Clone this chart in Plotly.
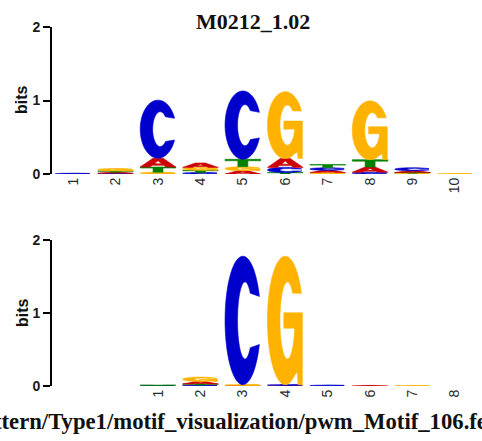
import numpy as np
import plotly.graph_objects as go

# ---------------- data (information content in bits) ----------------
title_text = "M0212_1.02"
caption_text = "pattern/Type1/motif_visualization/pwm_Motif_106.feature"

top_positions = [1, 2, 3, 4, 5, 6, 7, 8, 9, 10]
top_labels = ["1", "2", "3", "4", "5", "6", "7", "8", "9", "10"]
top_A = [0.0, 0.015, 0.12, 0.06, 0.045, 0.12, 0.03, 0.07, 0.025, 0.0]
top_C = [0.01, 0.01, 0.79, 0.02, 0.93, 0.07, 0.035, 0.025, 0.04, 0.0]
top_G = [0.0, 0.035, 0.025, 0.04, 0.055, 0.91, 0.02, 0.80, 0.01, 0.005]
top_T = [0.0, 0.015, 0.07, 0.03, 0.10, 0.02, 0.045, 0.10, 0.01, 0.0]

bot_positions = [1, 2, 3, 4, 5, 6, 7, 8]
bot_labels = ["1", "2", "3", "4", "5", "6", "7", "8"]
bot_A = [0.0, 0.035, 0.008, 0.008, 0.0, 0.008, 0.0, 0.0]
bot_C = [0.006, 0.012, 1.76, 0.01, 0.012, 0.0, 0.0, 0.0]
bot_G = [0.0, 0.06, 0.01, 1.76, 0.0, 0.0, 0.004, 0.0]
bot_T = [0.006, 0.015, 0.0, 0.0, 0.0, 0.0, 0.0, 0.0]

y_ticks = [0, 1, 2]

# ---------------- style ----------------
colors = {"A": "#CC0000", "C": "#0000CC", "G": "#FFB300", "T": "#008000"}
W = 0.84  # letter width in position units


def arc(cx, cy, rx, ry, t0, t1, n=48):
    t = np.radians(np.linspace(t0, t1, n))
    return list(zip(cx + rx * np.cos(t), cy + ry * np.sin(t)))


def glyph(letter):
    """Unit-square glyph outline(s) for a letter (list of subpaths)."""
    if letter == "C":
        outer = arc(0.5, 0.5, 0.5, 0.5, 22, 338, 64)
        inner = arc(0.56, 0.5, 0.21, 0.30, 315, 45, 48)
        return [outer + inner]
    if letter == "G":
        outer = arc(0.5, 0.5, 0.5, 0.5, 25, 300, 60)
        mid = [(0.84, 0.10), (0.86, 0.0), (0.98, 0.0), (0.98, 0.56),
               (0.46, 0.56), (0.46, 0.44)]
        inner = arc(0.56, 0.5, 0.21, 0.30, 348.5, 45, 48)
        return [outer + mid + inner]
    if letter == "A":
        outer = [(0.0, 0.0), (0.36, 1.0), (0.64, 1.0), (1.0, 0.0), (0.73, 0.0),
                 (0.66, 0.2), (0.34, 0.2), (0.27, 0.0)]
        hole = [(0.40, 0.36), (0.5, 0.72), (0.60, 0.36)]
        return [outer, hole]
    if letter == "T":
        return [[(0.0, 1.0), (1.0, 1.0), (1.0, 0.8), (0.64, 0.8), (0.64, 0.0),
                 (0.36, 0.0), (0.36, 0.8), (0.0, 0.8)]]


GLYPHS = {b: glyph(b) for b in "ACGT"}


def letter_path(letter, pos, base, h):
    parts = []
    for sub in GLYPHS[letter]:
        pts = [(pos + (u - 0.5) * W, base + v * h) for u, v in sub]
        s = "M " + " L ".join(f"{x:.4f},{y:.5f}" for x, y in pts) + " Z"
        parts.append(s)
    return " ".join(parts)


def stack_shapes(positions, series, xref, yref):
    shapes = []
    for i, pos in enumerate(positions):
        items = [(series[b][i], b) for b in "ACGT" if series[b][i] > 0]
        items.sort()
        base = 0.0
        for h, b in items:
            shapes.append(dict(
                type="path", xref=xref, yref=yref,
                path=letter_path(b, pos, base, h),
                fillcolor=colors[b], fillrule="evenodd",
                line=dict(color=colors[b], width=0.6), layer="above"))
            base += h
    return shapes


top_series = {"A": top_A, "C": top_C, "G": top_G, "T": top_T}
bot_series = {"A": bot_A, "C": bot_C, "G": bot_G, "T": bot_T}

shapes = stack_shapes(top_positions, top_series, "x", "y") + \
    stack_shapes(bot_positions, bot_series, "x2", "y2")

fig = go.Figure()
fig.add_trace(go.Scatter(x=[], y=[], xaxis="x", yaxis="y", showlegend=False))
fig.add_trace(go.Scatter(x=[], y=[], xaxis="x2", yaxis="y2", showlegend=False))

FW, FH = 482, 441
xdom = [52 / FW, 474 / FW]

xaxis_common = dict(showline=False, showgrid=False, zeroline=False, ticks="",
                    automargin=False, tickangle=-90,
                    tickfont=dict(family="Liberation Sans", size=14, color="#2a2a2a"),
                    domain=xdom, fixedrange=True)
yaxis_common = dict(showline=True, linecolor="black", linewidth=2, showgrid=False,
                    zeroline=False, ticks="outside", ticklen=7, tickwidth=2,
                    automargin=False,
                    tickcolor="black", tickvals=y_ticks, ticktext=[str(v) for v in y_ticks],
                    tickfont=dict(family="Liberation Sans", size=14, color="#1a1a1a", weight="bold"),
                    range=[0, 2], fixedrange=True)

fig.update_layout(
    template="none",
    width=FW, height=FH,
    margin=dict(l=0, r=0, t=0, b=0, pad=0, autoexpand=False),
    paper_bgcolor="white", plot_bgcolor="white",
    showlegend=False,
    xaxis=dict(xaxis_common, anchor="y", range=[0.5, 10.45],
               tickvals=top_positions, ticktext=top_labels),
    yaxis=dict(yaxis_common, anchor="x", domain=[1 - 174 / FH, 1 - 27 / FH]),
    xaxis2=dict(xaxis_common, anchor="y2", range=[-1.5, 8.45],
                tickvals=bot_positions, ticktext=bot_labels),
    yaxis2=dict(yaxis_common, anchor="x2", domain=[1 - 386 / FH, 1 - 240 / FH]),
    shapes=shapes,
    annotations=[
        dict(text=title_text, xref="paper", yref="paper", x=253 / FW, y=1 - 22 / FH,
             xanchor="center", yanchor="middle", showarrow=False,
             font=dict(family="Liberation Serif", size=22, color="#111111", weight="bold")),
        dict(text="bits", xref="paper", yref="paper", x=22 / FW, y=1 - 100 / FH,
             xanchor="center", yanchor="middle", showarrow=False, textangle=-90,
             font=dict(family="Liberation Sans", size=16, color="#111111", weight="bold")),
        dict(text="bits", xref="paper", yref="paper", x=22 / FW, y=1 - 313 / FH,
             xanchor="center", yanchor="middle", showarrow=False, textangle=-90,
             font=dict(family="Liberation Sans", size=16, color="#111111", weight="bold")),
        dict(text=caption_text, xref="paper", yref="paper", x=-32 / FW, y=1 - 421 / FH,
             xanchor="left", yanchor="middle", showarrow=False,
             font=dict(family="Liberation Serif", size=22.7, color="#111111", weight="bold")),
    ],
)

fig.write_html("out.html", config={"displayModeBar": False},
               post_script="document.body.style.margin='0';document.body.style.overflow='hidden';")
